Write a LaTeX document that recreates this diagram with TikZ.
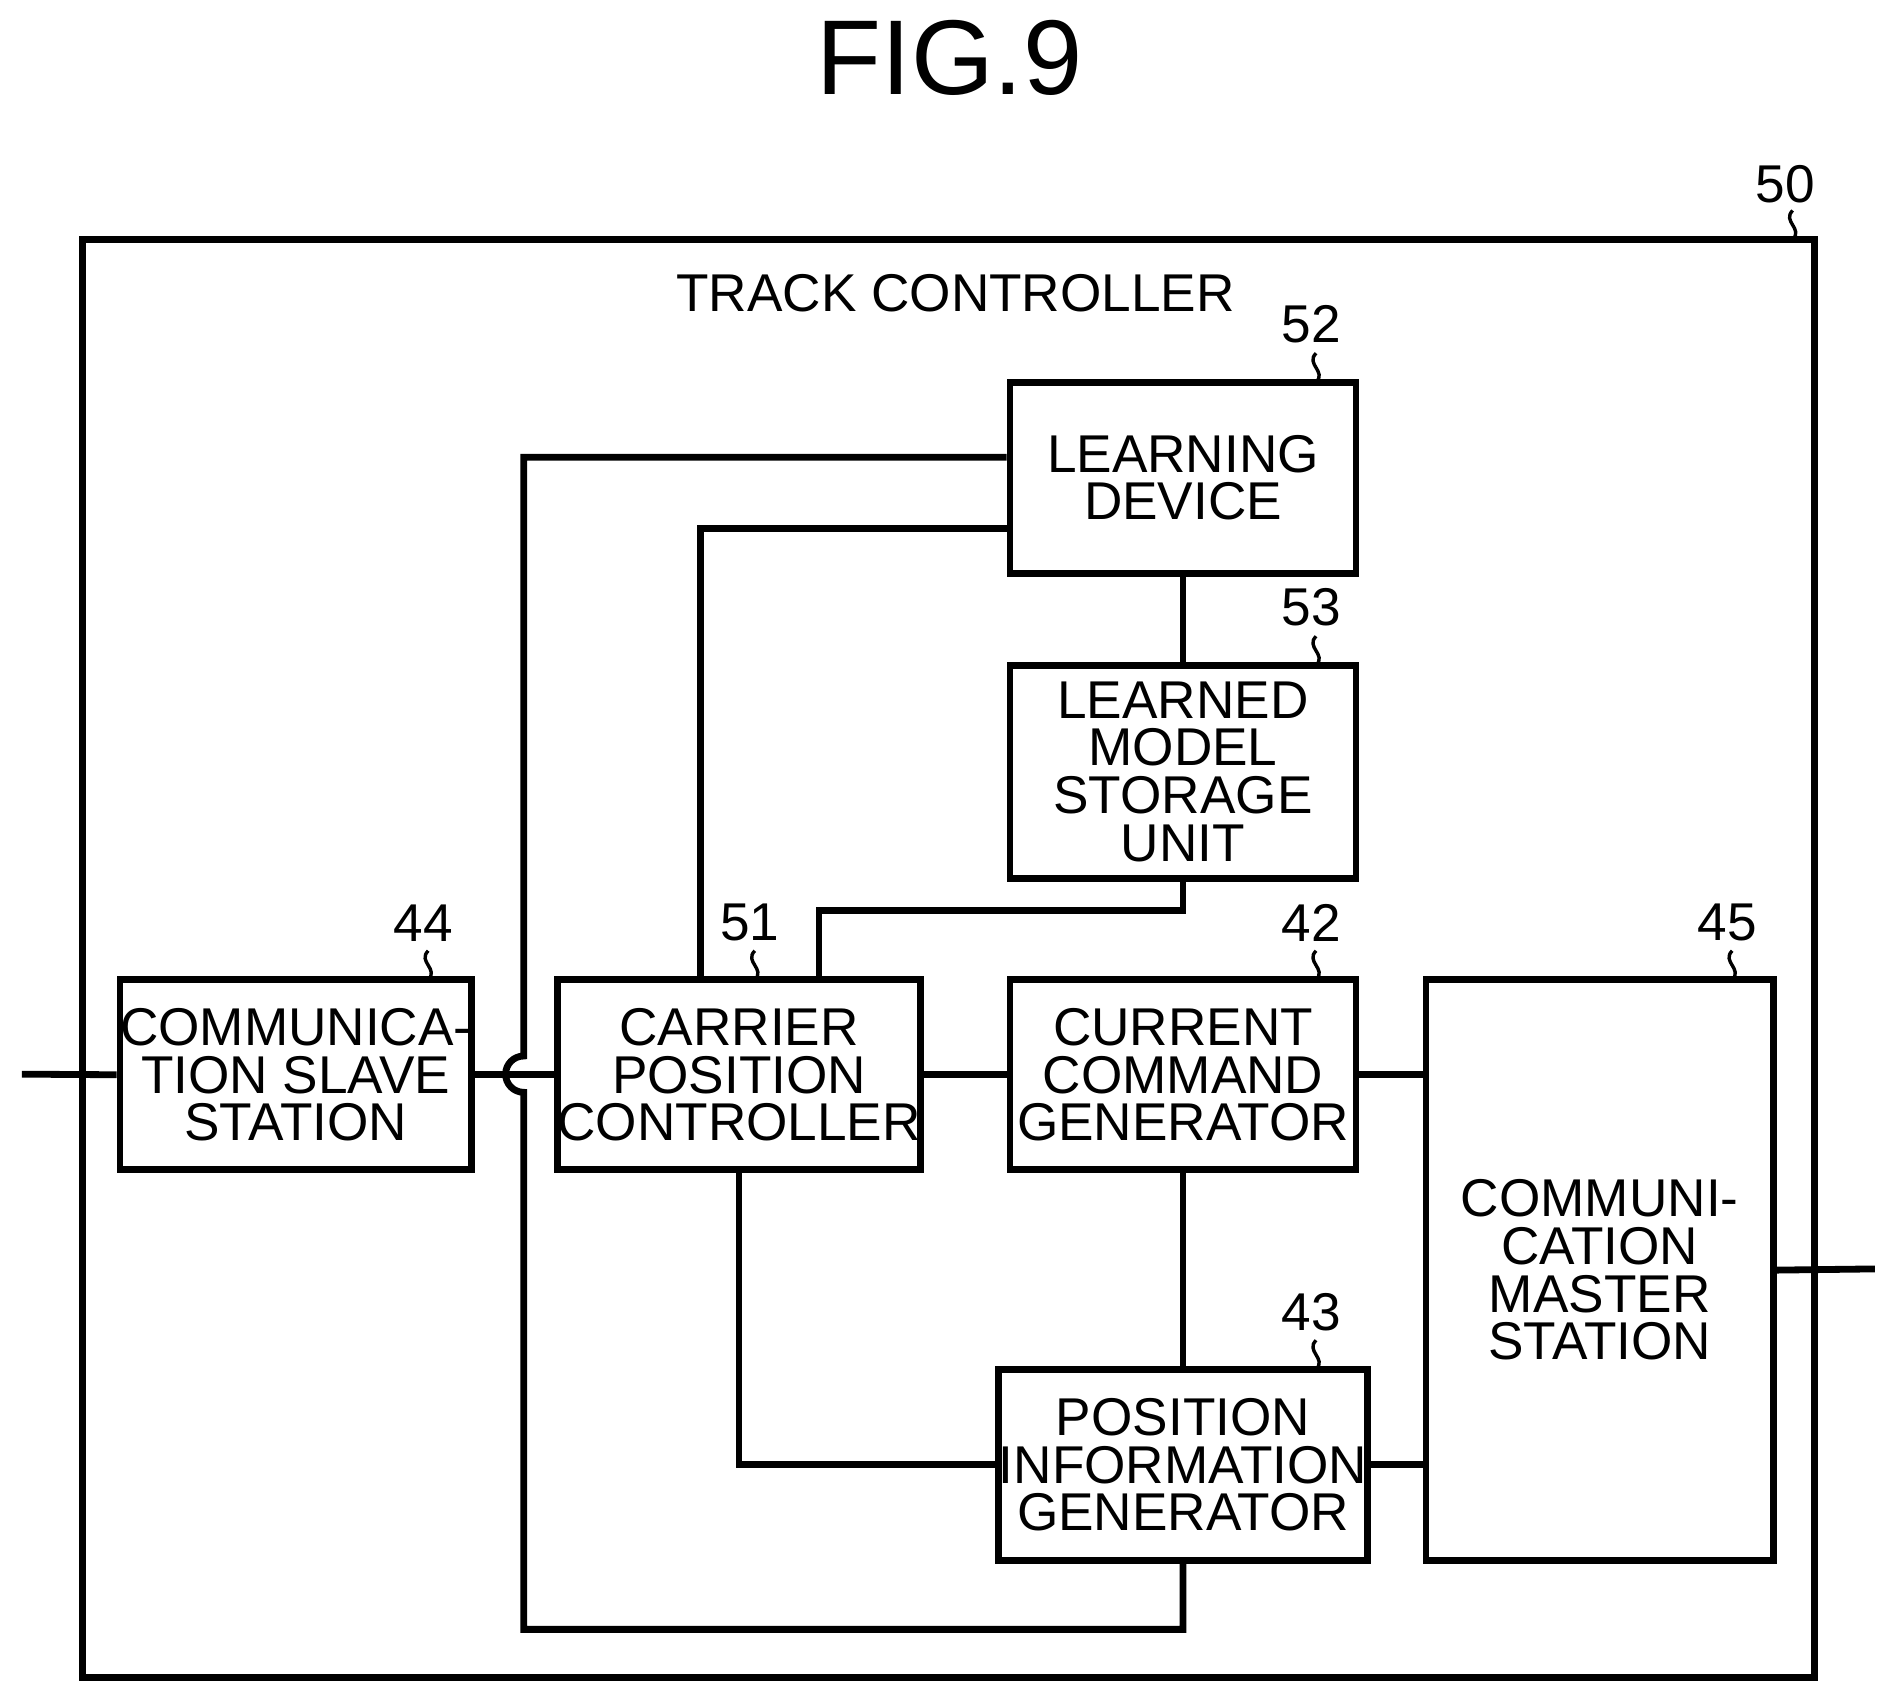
\documentclass[tikz,border=0pt]{standalone}
\usepackage{fontspec}
\setmainfont{Liberation Sans}
\usetikzlibrary{positioning}
\tikzset{
  block/.style={draw,line width=1.6pt,inner sep=0pt,align=center,font=\fontsize{12.5}{11.2}\selectfont},
  wire/.style={line width=1.6pt},
  refnum/.style={font=\fontsize{12.5}{12}\selectfont},
}
\newcommand{\lead}[2]{\draw[line width=0.8pt] (#1,#2-24) .. controls (#1-9,#2-15) and (#1+9,#2-9) .. (#1,#2);}
\begin{document}
\begin{tikzpicture}[x=0.01cm,y=-0.01cm]
\useasboundingbox (0,0) rectangle (1560,1399);

\node at (785,48) {\fontsize{25}{25}\selectfont FIG.9};

% track controller
\draw[line width=1.6pt] (68,198) rectangle (1500,1387);
\node (title) at (790,242) {\fontsize{12.5}{12}\selectfont TRACK CONTROLLER};
\node[refnum] (n50) at (1476,152) {50};
\lead{1482}{198}

% blocks
\node[block,minimum width=2.86cm,minimum height=1.58cm] (learn) at (978,395) {LEARNING\\DEVICE};
\node[block,minimum width=2.86cm,minimum height=1.76cm] (model) at (978,638) {LEARNED\\MODEL\\STORAGE\\UNIT};
\node[block,minimum width=2.87cm,minimum height=1.57cm] (slave) at (244.5,888.5) {COMMUNICA-\\TION SLAVE\\STATION};
\node[block,minimum width=2.86cm,minimum height=1.57cm] (carrier) at (611,888.5) {CARRIER\\POSITION\\CONTROLLER};
\node[block,minimum width=2.86cm,minimum height=1.57cm] (current) at (978,888.5) {CURRENT\\COMMAND\\GENERATOR};
\node[block,minimum width=2.87cm,minimum height=4.8cm] (master) at (1322.5,1050) {COMMUNI-\\CATION\\MASTER\\STATION};
\node[block,minimum width=2.86cm,minimum height=1.58cm] (posinfo) at (978,1211) {POSITION\\INFORMATION\\GENERATOR};

% reference numerals
\node[refnum] (n52) at (1084,268) {52}; \lead{1088}{316}
\node[refnum] (n53) at (1084,502) {53}; \lead{1088}{550}
\node[refnum] (n44) at (350,763) {44};  \lead{354}{810}
\node[refnum] (n51) at (620,763) {51};  \lead{624}{810}
\node[refnum] (n42) at (1084,763) {42}; \lead{1088}{810}
\node[refnum] (n45) at (1428,763) {45}; \lead{1432}{810}
\node[refnum] (n43) at (1084,1085) {43}; \lead{1088}{1132}

% connectors
\coordinate (inL) at (18,888);
\coordinate (outR) at (1550,1049);
\draw[wire] (inL) -- (slave.west);
\draw[wire] (slave.east) -- (carrier.west);
\draw[wire] (carrier.east) -- (current.west);
\draw[wire] (current.east) -- (current.east -| master.west);
\draw[wire] (learn) -- (model);
\draw[wire] (current) -- (posinfo);
\draw[wire] (posinfo.east) -- (posinfo.east -| master.west);
\draw[wire] (master.east) -- (outR);
\draw[wire] (carrier.south) |- (posinfo.west);
\draw[wire] (model.south) -- ++(0,24) -| ([xshift=0.66cm]carrier.north);
\draw[wire] ([yshift=-0.42cm]learn.west) -| ([xshift=-0.32cm]carrier.north);
\draw[wire] ([yshift=0.17cm]learn.west) -- (433,378) -- (433,873)
  arc[start angle=90,end angle=270,radius=0.15cm] -- (433,1347) -| (posinfo.south);
\end{tikzpicture}
\end{document}
